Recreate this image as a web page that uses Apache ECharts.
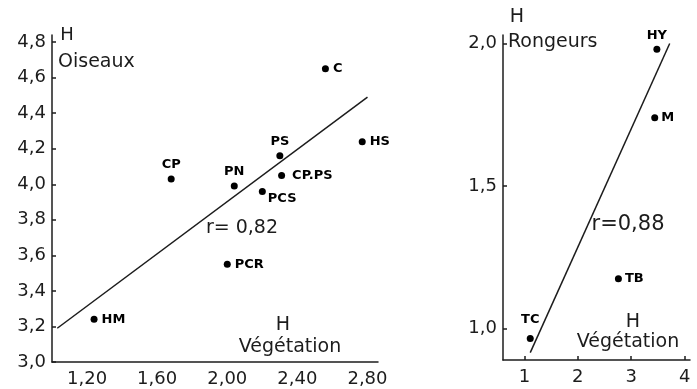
<!DOCTYPE html>
<html>
<head>
<meta charset="utf-8">
<script src="https://cdn.jsdelivr.net/npm/echarts@6/dist/echarts.min.js"></script>
<style>
  html, body { margin: 0; padding: 0; background: #fff; }
  #chart { width: 697px; height: 389px; }
</style>
</head>
<body>
<div id="chart"></div>
<script>
// Oiseaux (left panel)
var birdNames = ['C', 'HS', 'PS', 'CP.PS', 'CP', 'PN', 'PCS', 'PCR', 'HM']
var birdVeg = [2.56, 2.77, 2.30, 2.31, 1.68, 2.04, 2.20, 2.00, 1.24]
var birdH = [4.65, 4.24, 4.16, 4.05, 4.03, 3.99, 3.96, 3.55, 3.24]
var birdFitX = [1.03, 2.80]
var birdFitY = [3.19, 4.49]
var birdXTicks = [1.2, 1.6, 2.0, 2.4, 2.8]
var birdYTicks = [3.0, 3.2, 3.4, 3.6, 3.8, 4.0, 4.2, 4.4, 4.6, 4.8]

// Rongeurs (right panel)
var rodentNames = ['HY', 'M', 'TB', 'TC']
var rodentVeg = [3.48, 3.44, 2.76, 1.11]
var rodentH = [1.98, 1.74, 1.175, 0.965]
var rodentFitX = [1.11, 3.72]
var rodentFitY = [0.916, 2.0]
var rodentXTicks = [1, 2, 3, 4]
var rodentYTicks = [1.0, 1.5, 2.0]

var ink = '#1c1c1c'
var font = 'DejaVu Sans'

// where each point's name sits
var labelPlace = {
  'C': { position: 'right' },
  'HS': { position: 'right' },
  'PS': { position: 'top' },
  'CP.PS': { position: 'right', distance: 7 },
  'CP': { position: 'top' },
  'PN': { position: 'top' },
  'PCS': { position: 'right', distance: 2, offset: [0, 7] },
  'PCR': { position: 'right' },
  'HM': { position: 'right' },
  'HY': { position: 'top' },
  'M': { position: 'right', distance: 3 },
  'TB': { position: 'right', distance: 3 },
  'TC': { position: 'top', distance: 9 }
}

function comma(digits) {
  return function (v) {
    return v.toFixed(digits).replace('.', ',')
  }
}

function axis(grid, min, max, ticks, fmt, showTick, margin) {
  return {
    type: 'value',
    gridIndex: grid,
    min: min,
    max: max,
    splitLine: { show: false },
    axisLine: { show: true, onZero: false, lineStyle: { color: ink, width: 1.5 } },
    axisTick: {
      show: showTick,
      inside: true,
      length: 4,
      customValues: ticks,
      lineStyle: { color: ink, width: 1.5 }
    },
    axisLabel: {
      customValues: ticks,
      formatter: fmt,
      color: ink,
      fontSize: 18,
      fontFamily: font,
      margin: margin
    }
  }
}

function points(names, xs, ys) {
  return names.map(function (n, i) {
    var p = labelPlace[n]
    return {
      name: n,
      value: [xs[i], ys[i]],
      label: {
        show: true,
        formatter: n,
        position: p.position,
        distance: p.distance == null ? 4 : p.distance,
        offset: p.offset || [0, 0],
        color: '#000',
        fontSize: 13,
        fontWeight: 'bold',
        fontFamily: font
      }
    }
  })
}

function fit(xs, ys) {
  return xs.map(function (x, i) { return [x, ys[i]] })
}

function text(str, x, y, size, align) {
  return {
    type: 'text',
    x: x,
    y: y,
    style: {
      text: str,
      font: size + 'px "' + font + '"',
      fill: ink,
      align: align || 'center',
      verticalAlign: 'middle'
    }
  }
}

var chart = echarts.init(document.getElementById('chart'))
chart.setOption({
  backgroundColor: '#fff',
  animation: false,
  grid: [
    { left: 52, top: 35, width: 326, bottom: 27 },
    { left: 503, top: 35, width: 187, bottom: 29 }
  ],
  xAxis: [
    axis(0, 1.0, 2.86, birdXTicks, comma(2), false, 8),
    axis(1, 0.6, 4.1, rodentXTicks, comma(0), true, 8)
  ],
  yAxis: [
    axis(0, 3.0, 4.84, birdYTicks, comma(1), true, 6),
    axis(1, 0.89, 2.03, rodentYTicks, comma(1), true, 6)
  ],
  series: [
    {
      type: 'line',
      xAxisIndex: 0,
      yAxisIndex: 0,
      symbol: 'none',
      lineStyle: { color: ink, width: 1.5 },
      data: fit(birdFitX, birdFitY)
    },
    {
      type: 'scatter',
      xAxisIndex: 0,
      yAxisIndex: 0,
      symbolSize: 7,
      itemStyle: { color: '#000', opacity: 1 },
      data: points(birdNames, birdVeg, birdH)
    },
    {
      type: 'line',
      xAxisIndex: 1,
      yAxisIndex: 1,
      symbol: 'none',
      lineStyle: { color: ink, width: 1.5 },
      data: fit(rodentFitX, rodentFitY)
    },
    {
      type: 'scatter',
      xAxisIndex: 1,
      yAxisIndex: 1,
      symbolSize: 7,
      itemStyle: { color: '#000', opacity: 1 },
      data: points(rodentNames, rodentVeg, rodentH)
    }
  ],
  graphic: [
    text('H', 67, 35, 18),
    text('Oiseaux', 58, 62, 19, 'left'),
    text('r= 0,82', 242, 228, 19),
    text('H', 283, 325, 19),
    text('Végétation', 290, 347, 19),
    text('H', 517, 17, 19),
    text('Rongeurs', 508, 42, 19, 'left'),
    text('r=0,88', 628, 225, 21),
    text('H', 633, 322, 19),
    text('Végétation', 628, 342, 19)
  ]
})
</script>
</body>
</html>
